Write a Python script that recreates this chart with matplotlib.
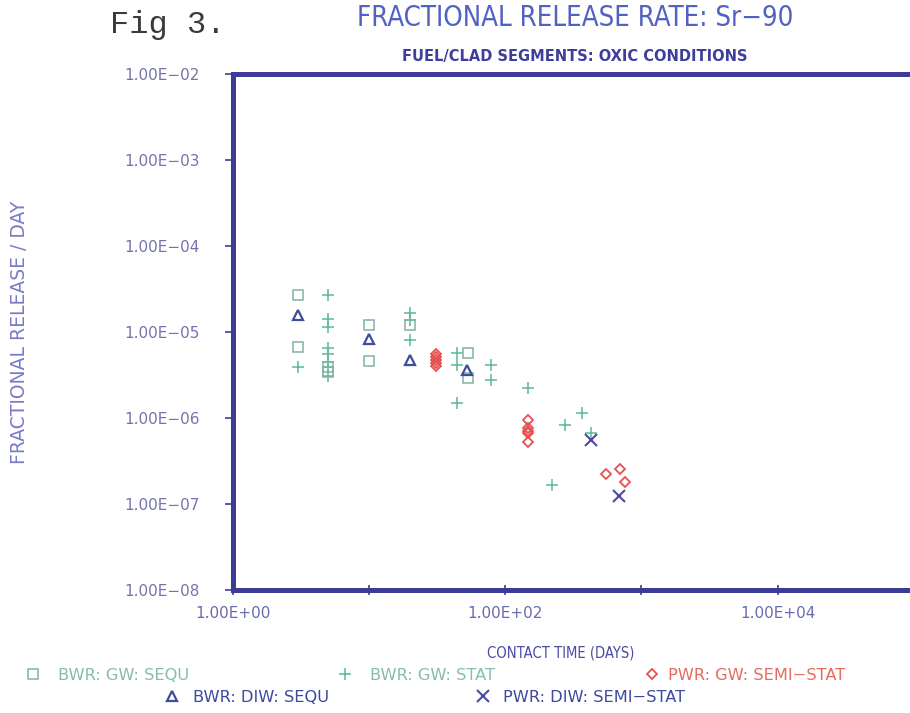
import matplotlib
matplotlib.use("Agg")
import matplotlib.pyplot as plt
from matplotlib.lines import Line2D

# --- data (days, fraction/day) ---
bwr_gw_sequ_x = [3, 3, 5, 5, 10, 10, 20, 53, 53]
bwr_gw_sequ_y = [2.7e-5, 6.75e-6, 3.9e-6, 3.4e-6, 1.2e-5, 4.6e-6, 1.2e-5, 5.65e-6, 2.9e-6]

bwr_gw_stat_x = [3, 5, 5, 5, 5, 5, 5, 5, 5, 20, 20, 20, 44, 44, 44, 79, 79, 146, 220, 277, 367, 424]
bwr_gw_stat_y = [3.9e-6, 2.7e-5, 1.41e-5, 1.15e-5, 6.5e-6, 5.55e-6, 4.5e-6, 3.9e-6, 3.1e-6,
                 1.65e-5, 1.38e-5, 8.1e-6, 5.65e-6, 4.13e-6, 1.48e-6, 4.13e-6, 2.77e-6,
                 2.21e-6, 1.66e-7, 8.3e-7, 1.15e-6, 6.75e-7]

bwr_diw_sequ_x = [3, 10, 20, 52]
bwr_diw_sequ_y = [1.58e-5, 8.2e-6, 4.75e-6, 3.6e-6]

pwr_gw_semi_x = [31, 31, 31, 31, 31, 148, 148, 148, 148, 148, 548, 695, 757]
pwr_gw_semi_y = [5.55e-6, 5.1e-6, 4.7e-6, 4.35e-6, 4.05e-6,
                 9.5e-7, 7.7e-7, 7.0e-7, 6.7e-7, 5.3e-7, 2.23e-7, 2.55e-7, 1.82e-7]

pwr_diw_semi_x = [424, 687]
pwr_diw_semi_y = [5.55e-7, 1.25e-7]

x_ticks = [1, 10, 100, 1000, 10000]
x_labels = ["1.00E+00", "", "1.00E+02", "", "1.00E+04"]
y_ticks = [1e-8, 1e-7, 1e-6, 1e-5, 1e-4, 1e-3, 1e-2]
y_labels = ["1.00E\u221208", "1.00E\u221207", "1.00E\u221206", "1.00E\u221205",
            "1.00E\u221204", "1.00E\u221203", "1.00E\u221202"]

spine_col = "#3c3c98"
teal = "#5cb896"
sq_col = "#7fb3a6"
tri_col = "#3f4d9e"
red = "#e65050"
x_col = "#4a4aa2"

fig = plt.figure(figsize=(9.1, 7.13), dpi=100)
ax = fig.add_axes([0.256, 0.1725, 0.748, 0.7237])

ax.set_xscale("log")
ax.set_yscale("log")

ax.plot(bwr_gw_stat_x, bwr_gw_stat_y, linestyle="none", marker="+", ms=8.5, mew=1.1, color=teal)
ax.plot(bwr_gw_sequ_x, bwr_gw_sequ_y, linestyle="none", marker="s", ms=6.5, mew=1.1,
        mfc="none", mec=sq_col)
ax.plot(bwr_diw_sequ_x, bwr_diw_sequ_y, linestyle="none", marker="^", ms=7, mew=1.6,
        mfc="none", mec=tri_col)
ax.plot(pwr_gw_semi_x, pwr_gw_semi_y, linestyle="none", marker="D", ms=5, mew=1.3,
        mfc="none", mec=red)
ax.plot(pwr_diw_semi_x, pwr_diw_semi_y, linestyle="none", marker="x", ms=8, mew=1.5, color=x_col)

ax.set_xlim(1, 1e5)
ax.set_ylim(1e-8, 1e-2)

ax.set_xticks(x_ticks)
ax.set_xticklabels(x_labels)
ax.set_yticks(y_ticks)
ax.set_yticklabels(y_labels)
ax.minorticks_off()

ax.tick_params(axis="y", direction="out", length=6, width=1.2, color=spine_col,
               pad=18, labelsize=11, labelcolor="#7474aa")
ax.tick_params(axis="x", direction="inout", length=7, width=1.2, color=spine_col,
               pad=8, labelsize=11, labelcolor="#6a6aae")

for side in ["left", "top", "bottom"]:
    ax.spines[side].set_linewidth(3.6)
    ax.spines[side].set_color(spine_col)
ax.spines["right"].set_visible(False)

fig.text(0.616, 1 - 653 / 713, "CONTACT TIME (DAYS)", ha="center", va="center",
         fontsize=10.6, color="#4a4aa8", fontstretch="condensed")
fig.text(0.021, 1 - 332 / 713, "FRACTIONAL RELEASE / DAY", rotation=90, ha="center",
         va="center", fontsize=13.5, color="#7a7ac8")

fig.text(110 / 910, 1 - 25 / 713, "Fig 3.", ha="left", va="center", fontsize=23,
         family="Liberation Mono", color="#3a3a3a")
fig.text(575 / 910, 1 - 18 / 713, "FRACTIONAL RELEASE RATE: Sr\u221290", ha="center",
         va="center", fontsize=19.8, fontstretch="condensed", color="#5262c2")
fig.text(575 / 910, 1 - 56 / 713, "FUEL/CLAD SEGMENTS: OXIC CONDITIONS", ha="center",
         va="center", fontsize=11.7, fontstretch="condensed", fontweight="bold",
         color="#3e3e9c")

# legend entries: (handle, label, marker x px, text x px, row y px, color)
entries = [
    (Line2D([], [], ls="none", marker="s", ms=6.5, mew=1.1, mfc="none", mec=sq_col),
     "BWR: GW: SEQU", 33, 58, 675, "#86bdb2"),
    (Line2D([], [], ls="none", marker="+", ms=8.5, mew=1.1, color=teal),
     "BWR: GW: STAT", 345, 370, 675, "#86bdb2"),
    (Line2D([], [], ls="none", marker="D", ms=5, mew=1.3, mfc="none", mec=red),
     "PWR: GW: SEMI\u2212STAT", 652, 668, 675, "#e86a60"),
    (Line2D([], [], ls="none", marker="^", ms=7, mew=1.6, mfc="none", mec=tri_col),
     "BWR: DIW: SEQU", 172, 193, 697, "#3e4aa0"),
    (Line2D([], [], ls="none", marker="x", ms=8, mew=1.5, color=x_col),
     "PWR: DIW: SEMI\u2212STAT", 483, 503, 697, "#3e4aa0"),
]
fs = 11.7
em = fs * 100 / 72
hl = 0.6
for h, lab, mx, tx, ry, col in entries:
    start = mx - hl * em / 2
    pad = (tx - mx - hl * em / 2) / em
    fig.legend(handles=[h], labels=[lab], loc="center left",
               bbox_to_anchor=(start / 910, 1 - ry / 713), frameon=False,
               handlelength=hl, handletextpad=pad, borderpad=0, borderaxespad=0,
               fontsize=fs, labelcolor=col)

fig.savefig("out.png", dpi=100)
